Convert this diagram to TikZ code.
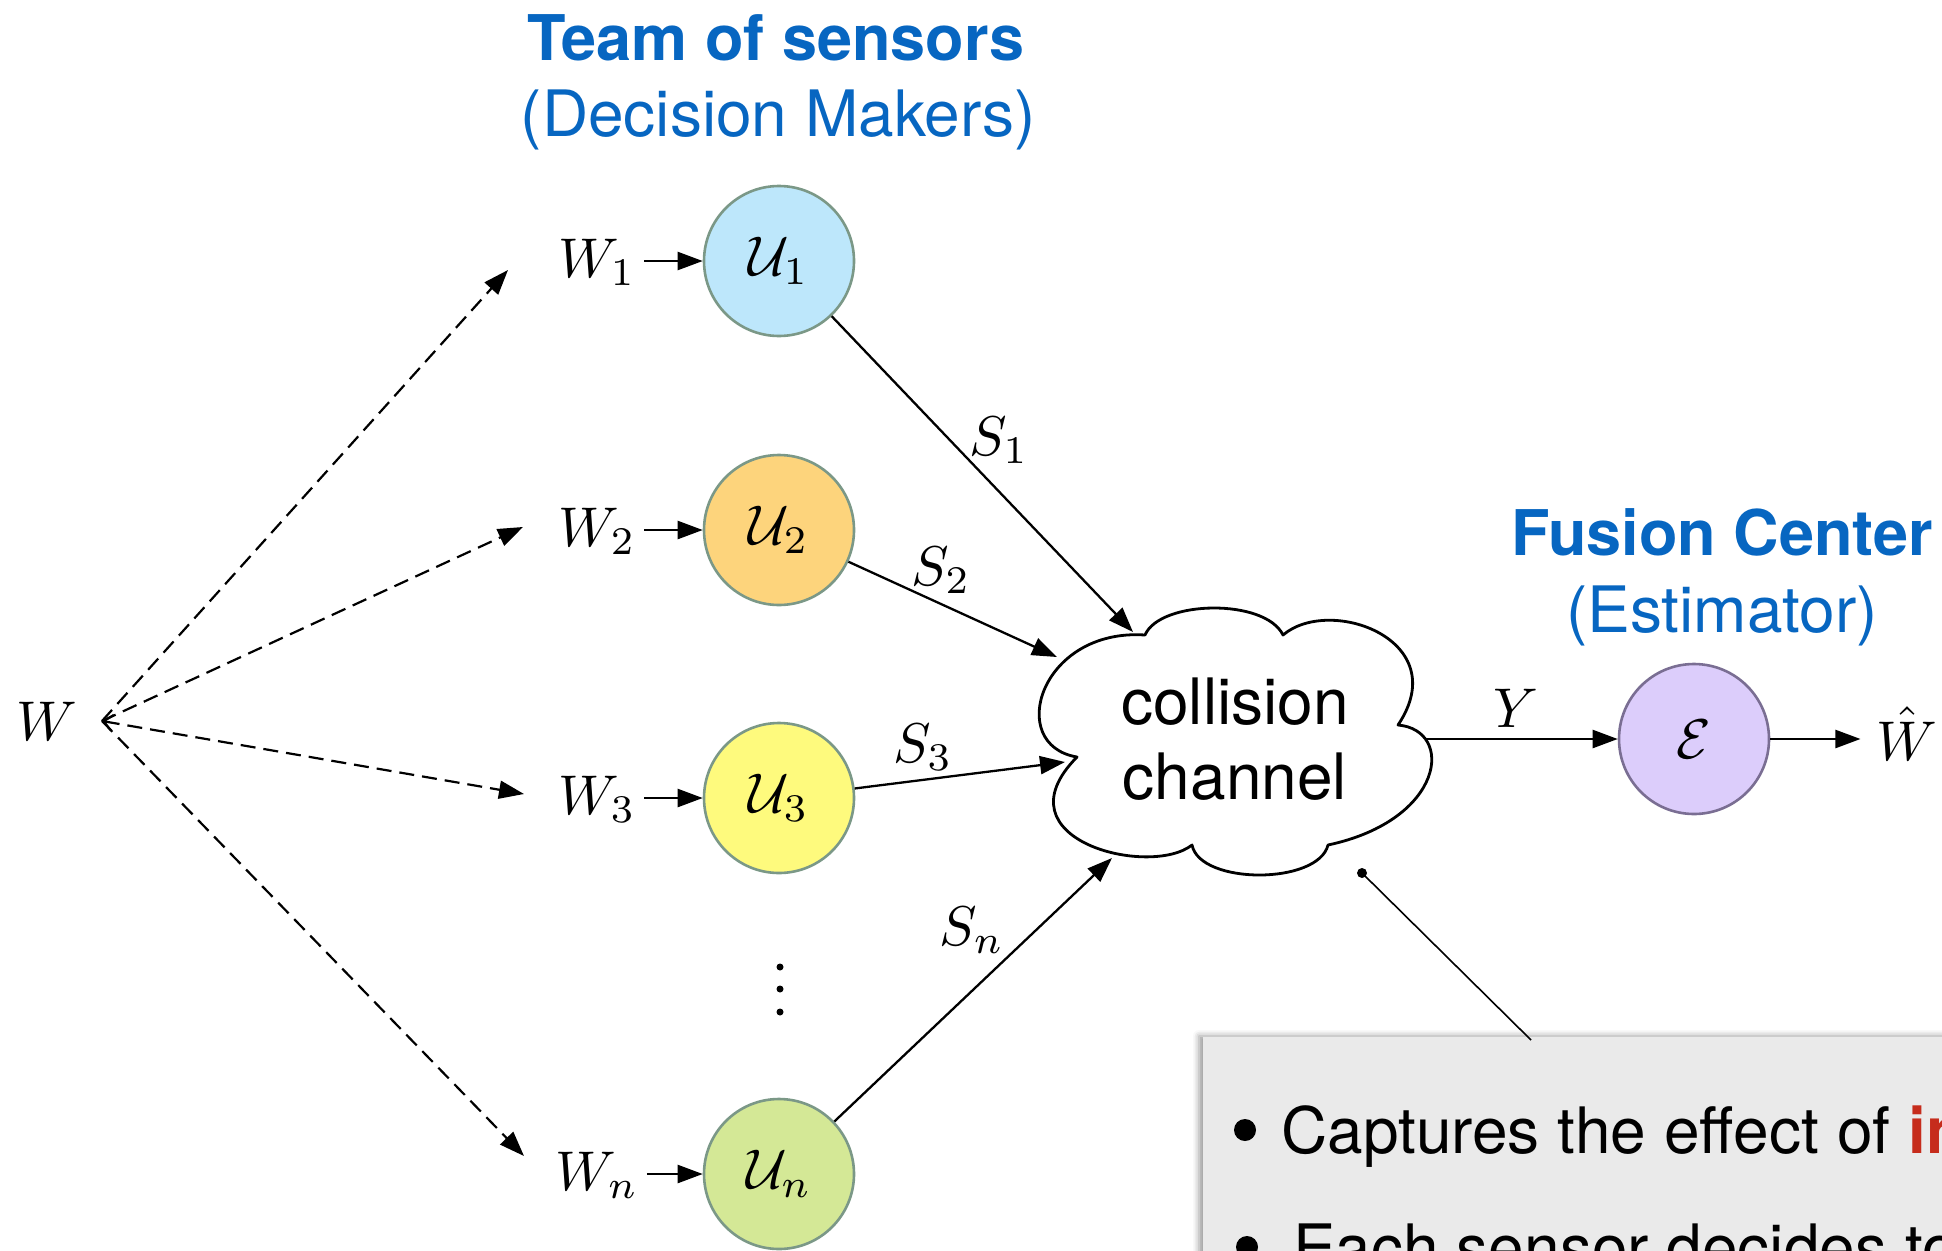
\RequirePackage{fix-cm}
\documentclass[tikz,border=0pt]{standalone}
\usepackage{graphicx}
\usepackage[no-math]{fontspec}
\usetikzlibrary{arrows.meta,shadows.blur}
\newfontfamily\heros{TeX Gyre Heros}

\definecolor{headblue}{HTML}{0766C1}
\definecolor{hotred}{HTML}{C62C1C}
\definecolor{fillA}{HTML}{BDE7FB}
\definecolor{fillB}{HTML}{FDD47C}
\definecolor{fillC}{HTML}{FEFA7D}
\definecolor{fillD}{HTML}{D4E896}
\definecolor{fillE}{HTML}{DCCDFB}
\definecolor{rimU}{HTML}{7B9887}
\definecolor{rimE}{HTML}{7A6E93}
\definecolor{notegray}{HTML}{EAEAEA}

% math set at 10pt and enlarged, so subscripts keep their text-size shapes
\newcommand\bigmath[1]{\scalebox{5.6}{$#1$}}

\tikzset{headtip/.tip={Triangle[length=25pt,width=18pt]}}

\begin{document}
\begin{tikzpicture}[x=1pt,y=-1pt,
  sensor/.style={circle, draw=rimU, line width=2.6pt, minimum size=150pt, inner sep=0pt,
    font=\fontsize{10}{12}\selectfont},
  mlabel/.style={inner sep=2pt, font=\fontsize{10}{12}\selectfont},
  headline/.style={text=headblue, inner sep=0pt, font=\heros\bfseries\fontsize{63}{76}\selectfont},
  subline/.style={text=headblue, inner sep=0pt, font=\heros\fontsize{64}{76}\selectfont},
  flow/.style={line width=2.3pt, -headtip},
  spread/.style={line width=2.2pt, dash pattern=on 15pt off 8pt, -headtip},
  notetext/.style={anchor=base west, inner sep=0pt, font=\heros\fontsize{64}{76}\selectfont},
]
\useasboundingbox (0,0) rectangle (1942,1250);
\clip (0,0) rectangle (1942,1250);

% headings
\node[headline, anchor=base] (teamT) at (776,60) {Team of sensors};
\node[subline, anchor=base] (teamS) at (778,136) {(Decision Makers)};
\node[headline, anchor=base] (fusT) at (1722,555) {Fusion Center};
\node[subline, anchor=base] (fusS) at (1722,632) {(Estimator)};

% the shared channel, drawn as a cloud
\draw[line width=2.8pt, fill=white, line join=round]
  (1145,635) .. controls (1160,600) and (1265,598) .. (1283,635)
  .. controls (1330,595) and (1455,640) .. (1398,725)
  .. controls (1455,730) and (1445,820) .. (1328,845)
  .. controls (1318,885) and (1200,885) .. (1192,845)
  .. controls (1150,878) and (995,840) .. (1077,757)
  .. controls (1005,745) and (1040,628) .. cycle;
\node[align=center, inner sep=0pt, font=\heros\fontsize{64}{75}\selectfont] (chan) at (1235,739)
  {collision\\channel};
\coordinate (in1) at (1133,632);
\coordinate (in2) at (1057,657);
\coordinate (in3) at (1065,762);
\coordinate (inn) at (1112,858);
\coordinate (out) at (1425,739);

% sensors and estimator
\node[sensor, fill=fillA] (u1) at (779,261) {\bigmath{\mathcal{U}_1}};
\node[sensor, fill=fillB] (u2) at (779,530) {\bigmath{\mathcal{U}_2}};
\node[sensor, fill=fillC] (u3) at (779,798) {\bigmath{\mathcal{U}_3}};
\node[sensor, fill=fillD] (un) at (779,1174) {\bigmath{\mathcal{U}_n}};
\node[sensor, fill=fillE, draw=rimE] (est) at (1694,739) {\bigmath{\mathcal{E}}};
\foreach \yy in {967,989,1012} \fill (780,\yy) circle (3.5pt);

% observations
\node[mlabel, anchor=base] (w) at (47,740) {\bigmath{W}};
\node[mlabel, anchor=base] (w1) at (597,277) {\bigmath{W_1}};
\node[mlabel, anchor=base] (w2) at (597,546) {\bigmath{W_2}};
\node[mlabel, anchor=base] (w3) at (597,814) {\bigmath{W_3}};
\node[mlabel, anchor=base] (wn) at (597,1190) {\bigmath{W_n}};

\coordinate (wo) at (102,721);
\coordinate (d1) at (508,270);
\coordinate (d2) at (523,527);
\coordinate (d3) at (524,794);
\coordinate (dn) at (524,1156);
\draw[spread] (wo) -- (d1);
\draw[spread] (wo) -- (d2);
\draw[spread, {Straight Barb[length=9pt,width=16pt]}-headtip] (wo) -- (d3);
\draw[spread] (wo) -- (dn);

\draw[flow, shorten <=6pt] (w1.east |- u1.west) -- (u1.west);
\draw[flow, shorten <=6pt] (w2.east |- u2.west) -- (u2.west);
\draw[flow, shorten <=6pt] (w3.east |- u3.west) -- (u3.west);
\draw[flow, shorten <=6pt] (wn.east |- un.west) -- (un.west);

% transmissions into the channel
\draw[flow] (u1) -- (in1);
\draw[flow] (u2) -- (in2);
\draw[flow] (u3) -- (in3);
\draw[flow] (un) -- (inn);
\node[mlabel, anchor=base] (s1) at (999,455) {\bigmath{S_1}};
\node[mlabel, anchor=base] (s2) at (941,585) {\bigmath{S_2}};
\node[mlabel, anchor=base] (s3) at (923,762) {\bigmath{S_3}};
\node[mlabel, anchor=base] (sn) at (972,945) {\bigmath{S_n}};

% channel output and estimate
\draw[flow] (out) -- (est.west);
\node[mlabel, anchor=base] (y) at (1516,727) {\bigmath{Y}};
\node[mlabel, anchor=base] (what) at (1907,760) {\bigmath{\hat{W}}};
\draw[flow, shorten >=14pt] (est.east) -- (est.east -| what.west);

% note box
\fill[notegray, blur shadow={shadow xshift=-4pt, shadow yshift=1pt, shadow blur radius=6pt, shadow opacity=40}]
  (1203,1037) rectangle (2100,1400);
\coordinate (pin) at (1362,873);
\coordinate (notetop) at (1531,1040);
\fill (pin) circle (5pt);
\draw[line width=1.6pt] (pin) -- (notetop);
\fill (1245,1130) circle (11pt);
\fill (1247,1247) circle (11pt);
\node[notetext] (line1) at (1281,1153)
  {Captures the effect of \textcolor{hotred}{\bfseries in}};
\node[notetext] (line2) at (1293,1270)
  {Each sensor decides to};
\end{tikzpicture}
\end{document}
